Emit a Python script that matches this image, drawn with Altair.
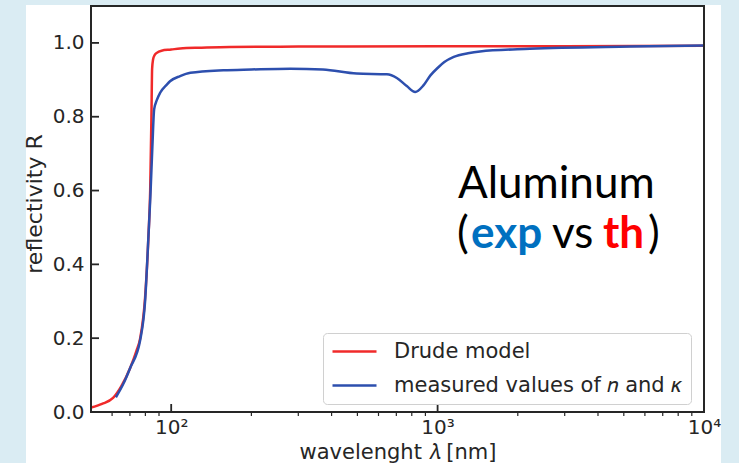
import altair as alt
import pandas as pd

# ---- data ----
drude_wl = [50, 55, 60.5, 65, 70.2, 74, 76.5, 79.8, 82.2, 83.4, 84.3, 84.8, 85.5, 86.5, 88.3, 92, 100, 108, 130, 166, 300, 1000, 3000, 10000]
drude_R = [0.012, 0.022, 0.038, 0.07, 0.12, 0.165, 0.2, 0.31, 0.48, 0.6, 0.8, 0.93, 0.955, 0.966, 0.973, 0.979, 0.982, 0.985, 0.987, 0.989, 0.990, 0.991, 0.991, 0.992]

meas_wl = [62, 66, 70.2, 76.5, 79.8, 82.2, 83.6, 85, 86.3, 88.3, 90.9, 96.3, 99, 108, 118, 157, 200, 280, 371, 497, 645, 703, 766, 824, 885, 940, 1000, 1060, 1150, 1300, 1443, 2223, 5277, 10000]
meas_R = [0.04, 0.075, 0.12, 0.195, 0.30, 0.48, 0.59, 0.72, 0.82, 0.845, 0.865, 0.887, 0.896, 0.91, 0.919, 0.926, 0.928, 0.930, 0.928, 0.917, 0.915, 0.905, 0.883, 0.867, 0.885, 0.912, 0.932, 0.948, 0.962, 0.972, 0.977, 0.984, 0.990, 0.993]

series_names = ["Drude model", "measured values of 𝑛 and 𝜅"]
series_colors = ["#f02a2a", "#2d4fae"]

x_major = [100, 1000, 10000]
x_minor = [60, 70, 80, 90, 200, 300, 400, 500, 600, 700, 800, 900,
           2000, 3000, 4000, 5000, 6000, 7000, 8000, 9000]
y_major = [0.0, 0.2, 0.4, 0.6, 0.8, 1.0]

W, H = 613, 406
INK = "#262626"
FONT = "DejaVu Sans"

df = pd.concat([
    pd.DataFrame({"wl": drude_wl, "R": drude_R, "series": series_names[0]}),
    pd.DataFrame({"wl": meas_wl, "R": meas_R, "series": series_names[1]}),
])

xscale = alt.Scale(type="log", domain=[50, 10000], nice=False)
yscale = alt.Scale(domain=[0, 1.1], nice=False, zero=False)

one = alt.Data(values=[{}])

panel = alt.Chart(one).mark_rect(color="white").encode(
    x=alt.value(-65), x2=alt.value(630), y=alt.value(-1), y2=alt.value(457)
)

lines = alt.Chart(df).mark_line(strokeWidth=2.5, interpolate="monotone").encode(
    x=alt.X("wl:Q", scale=xscale,
            axis=alt.Axis(values=x_major, ticks=False, domain=False, grid=False,
                          labelExpr="datum.value == 100 ? '10²' : datum.value == 1000 ? '10³' : '10⁴'",
                          labelFlush=False, labelOverlap=False, labelPadding=5,
                          labelFontSize=20, labelColor=INK, labelFont=FONT,
                          title="wavelenght 𝜆 [nm]", titleFontSize=21, titleFontWeight="normal",
                          titleColor=INK, titleFont=FONT, titlePadding=4, zindex=1)),
    y=alt.Y("R:Q", scale=yscale,
            axis=alt.Axis(values=y_major, format=".1f", ticks=False, domain=False, grid=False,
                          labelPadding=7, labelFontSize=20, labelColor=INK, labelFont=FONT,
                          title="reflectivity R", titleFontSize=22, titleFontWeight="normal",
                          titleColor=INK, titleFont=FONT, titlePadding=6, titleY=197.5, zindex=1)),
    color=alt.Color("series:N", scale=alt.Scale(domain=series_names, range=series_colors),
                    legend=alt.Legend(title=None, orient="none", legendX=232, legendY=327,
                                      symbolType="stroke", symbolSize=1936, symbolStrokeWidth=2.5,
                                      clipHeight=21,
                                      labelFontSize=21, labelFont=FONT, labelColor=INK,
                                      labelOffset=16, rowPadding=12, padding=8,
                                      strokeColor="#d0d0d0", fillColor="white",
                                      cornerRadius=4, zindex=1, labelLimit=400)),
    order=alt.Order("series:N"),
)

xmaj = alt.Chart(pd.DataFrame({"v": x_major})).mark_rule(color=INK, strokeWidth=1.8).encode(
    x=alt.X("v:Q", scale=xscale), y=alt.value(H), y2=alt.value(H - 8)
)
xmin = alt.Chart(pd.DataFrame({"v": x_minor})).mark_rule(color=INK, strokeWidth=1.2).encode(
    x=alt.X("v:Q", scale=xscale), y=alt.value(H), y2=alt.value(H + 4)
)
ymaj = alt.Chart(pd.DataFrame({"v": y_major})).mark_rule(color=INK, strokeWidth=1.8).encode(
    y=alt.Y("v:Q", scale=yscale), x=alt.value(0), x2=alt.value(8)
)

frame = alt.Chart(one).mark_rect(fillOpacity=0, stroke=INK, strokeWidth=2).encode(
    x=alt.value(0), x2=alt.value(W), y=alt.value(0), y2=alt.value(H)
)

# annotation pieces
ann_text = ["Aluminum", "(", "exp", "vs", "th", ")"]
ann_x = [367, 366, 380, 461, 512, 557]
ann_y = [192, 242, 242, 242, 242, 242]
ann_color = ["#000000", "#000000", "#0070c0", "#000000", "#ff0000", "#000000"]
ann_weight = ["normal", "normal", "bold", "normal", "bold", "normal"]

ann_layers = []
for t, xv, yv, c, w in zip(ann_text, ann_x, ann_y, ann_color, ann_weight):
    ann_layers.append(
        alt.Chart(alt.Data(values=[{"t": t}])).mark_text(
            align="left", baseline="alphabetic", font="Lato", fontSize=44,
            fontWeight=w, color=c
        ).encode(text="t:N", x=alt.value(xv), y=alt.value(yv))
    )

chart = alt.layer(panel, lines, xmaj, xmin, ymaj, frame, *ann_layers).properties(
    width=W, height=H,
    autosize=alt.AutoSizeParams(type="none"),
    padding={"left": 91, "top": 6, "right": 35, "bottom": 51},
).configure(background="#daecf3").configure_view(stroke=None)

chart.save("out.html", embed_options={"renderer": "svg", "actions": False})
